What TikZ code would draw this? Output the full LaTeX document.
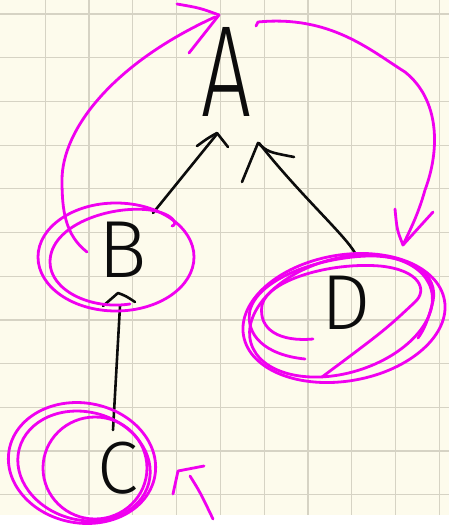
\documentclass[tikz,border=0pt]{standalone}
\usepackage{fontspec}
\newfontfamily\letterfont{Fira Sans Light}
\definecolor{paper}{RGB}{253,251,236}
\definecolor{gridc}{RGB}{214,211,196}
\definecolor{ink}{RGB}{12,12,12}
\definecolor{mag}{RGB}{240,0,240}
\tikzset{
  pen/.style={draw=ink, line width=2.6pt, line cap=round, line join=round},
  mpen/.style={draw=mag, line width=2.8pt, line cap=round, line join=round},
  letter/.style={inner sep=0pt, text=ink},
  gridline/.style={draw=gridc, line width=1.2pt},
}
\begin{document}
\begin{tikzpicture}[x=1pt,y=-1pt]
\useasboundingbox (0,0) rectangle (449,527);
\fill[white] (0,0) rectangle (449,527);
\fill[paper] (0,0) rectangle (449,515);
\foreach \k in {1,...,10} \draw[gridline] ({1.3+43.8*\k},0) -- ({1.3+43.8*\k},515);
\foreach \k in {0,...,11} \draw[gridline] (0,{14+43.7*\k}) -- (449,{14+43.7*\k});

% letters
\node[letter, font=\letterfont\fontsize{130}{130}\selectfont] (A) at (226,72) {\scalebox{0.68}[1]{A}};
\node[letter, font=\letterfont\fontsize{81}{81}\selectfont] (B) at (123,250) {B};
\node[letter, font=\letterfont\fontsize{78}{78}\selectfont] (D) at (346,303) {D};
\node[letter, font=\letterfont\fontsize{74}{74}\selectfont] (C) at (118,468) {C};

% connector endpoints
\coordinate (BA0) at (153,213);
\coordinate (BA1) at (217,134);
\coordinate (DA0) at (355,253);
\coordinate (DA1) at (259,143);
\coordinate (CB0) at (113,430);
\coordinate (CB1) at (120,306);

% black connectors
\draw[pen] (BA0) -- (BA1);
\draw[pen] (197,146) .. controls (208,138) .. (217,133) -- (228,147);
\draw[pen] (DA0) .. controls (345,235) and (300,195) .. (DA1);
\draw[pen] (242,182) -- (258,143) .. controls (268,152) .. (294,157);
\draw[pen] (CB0) -- (CB1);
\draw[pen] (103,306) -- (118,293) .. controls (126,296) .. (135,302);

% magenta: B -> A
\coordinate (mBA0) at (87,252);
\coordinate (mBA1) at (215,17);
\draw[mpen] (mBA0) .. controls (65,235) and (62,210) .. (62,180)
  .. controls (62,130) and (112,64) .. (mBA1);
\draw[mpen] (177,4) .. controls (200,8) .. (219,15) -- (189,53);

% magenta: A -> D
\coordinate (mAD0) at (256,26);
\coordinate (mAD1) at (403,245);
\draw[mpen] (mAD0) -- (258,22) .. controls (330,15) and (370,50) .. (405,72)
  .. controls (440,100) and (440,150) .. (425,190)
  .. controls (418,215) and (410,230) .. (mAD1);
\draw[mpen] (395,209) .. controls (397,230) .. (403,245) -- (433,212);

% magenta circles around B
\draw[mpen] (116,257) ellipse [x radius=78, y radius=54];
\draw[mpen] (130,304) .. controls (90,310) and (50,290) .. (50,262)
  .. controls (50,225) and (110,205) .. (150,210)
  .. controls (175,214) and (178,225) .. (172,226);

% magenta circles around D
\draw[mpen, rotate around={10:(344,318)}] (344,318) ellipse [x radius=102, y radius=63];
\draw[mpen, rotate around={17:(341,316)}] (341,316) ellipse [x radius=94, y radius=57];
\draw[mpen] (305,359) .. controls (265,355) and (245,335) .. (250,310)
  .. controls (260,275) and (330,255) .. (375,256)
  .. controls (420,258) and (440,280) .. (432,305)
  .. controls (428,320) and (424,330) .. (418,338);
\draw[mpen] (313,339) .. controls (280,342) and (258,330) .. (262,305)
  .. controls (268,280) and (330,262) .. (380,266)
  .. controls (420,270) and (428,290) .. (415,302)
  .. controls (385,330) .. (322,377);

% magenta circles around C
\draw[mpen, rotate around={-10:(82,463)}] (82,463) ellipse [x radius=74, y radius=60];
\draw[mpen, rotate around={-15:(84,466)}] (84,466) ellipse [x radius=67, y radius=54];
\draw[mpen] (95,468) ellipse [x radius=52, y radius=51];

% magenta arrow near C
\draw[mpen] (173,494) -- (178,471) -- (204,466);
\draw[mpen] (190,476) .. controls (200,492) .. (213,519);
\end{tikzpicture}
\end{document}
